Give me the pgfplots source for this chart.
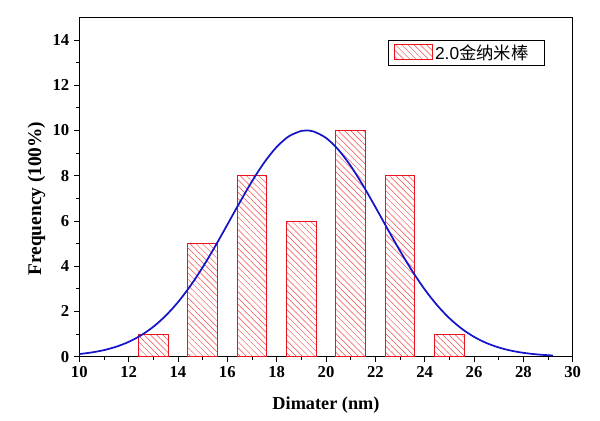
\documentclass[border=0pt]{standalone}
\usepackage{fontspec}
\setmainfont{Liberation Serif}
\setsansfont{Liberation Sans}
\newfontfamily\cjk{Noto Sans CJK SC}
\usepackage{pgfplots}
\pgfplotsset{compat=1.18}
\usetikzlibrary{patterns.meta}
\definecolor{curveblue}{RGB}{20,20,200}
\definecolor{barred}{RGB}{235,20,30}
\definecolor{hatchred}{RGB}{240,70,70}
\begin{document}
\begin{tikzpicture}
\useasboundingbox (-59.5pt,-48.2pt) rectangle (390.5pt,267.5pt);
\begin{axis}[
  scale only axis,
  width=370pt, height=254.5pt,
  xmin=10, xmax=30, ymin=0, ymax=15,
  xtick={10,12,...,30}, ytick={0,2,...,14},
  minor x tick num=1, minor y tick num=1,
  tick align=outside, tick pos=left,
  major tick length=4pt, minor tick length=2.5pt,
  axis line style={line width=0.8pt},
  every tick/.style={black, line width=0.6pt},
  /pgf/number format/assume math mode=true,
  tick label style={font=\fontsize{12.5}{13}\selectfont\bfseries},
  xlabel={Dimater (nm)},
  ylabel={Frequency (100\%)},
  xlabel style={at={(axis description cs:0.5,-0.144)}, anchor=center, font=\fontsize{13.7}{15}\selectfont\bfseries},
  ylabel style={at={(axis description cs:-0.0867,0.466)}, anchor=center, rotate=0, font=\fontsize{14.5}{16}\selectfont\bfseries},
  legend style={at={(1,1)}, anchor=north east, xshift=-20.8pt, yshift=-17pt,
    draw=black, line width=0.6pt, inner xsep=4pt, inner ysep=1pt,
    nodes={font=\fontsize{13}{15}\selectfont\sffamily}},
  legend cell align=left,
]
\addplot[ybar, bar width=1.2, bar shift=0pt, draw=barred, line width=0.6pt,
  pattern={Lines[angle=-45,distance=3.3pt,line width=0.35pt]}, pattern color=hatchred,
  legend image code/.code={
    \fill[pattern={Lines[angle=-45,distance=3.3pt,line width=0.35pt]}, pattern color=hatchred] (0pt,-5pt) rectangle (28pt,6pt);
    \draw[barred, line width=0.8pt] (0pt,-5pt) -- (28pt,-5pt);}
] coordinates {(13,1) (15,5) (17,8) (19,6) (21,10) (23,8) (25,1)};
\addlegendentry{\fontsize{13}{15}\selectfont\sffamily 2.0{\cjk 金纳米棒}\hspace*{6pt}}
\addplot[curveblue, line width=1.3pt, smooth, forget plot] coordinates {
(10,0.116) (10.5,0.186) (11,0.290) (11.5,0.441) (12,0.653) (12.5,0.942)
(13,1.322) (13.5,1.809) (14,2.410) (14.5,3.127) (15,3.952) (15.5,4.865)
(16,5.834) (16.5,6.813) (17,7.751) (17.5,8.589) (18,9.270) (18.5,9.745)
(19,9.979) (19.2,10) (19.5,9.953) (20,9.669) (20.5,9.149) (21,8.432)
(21.5,7.570) (22,6.619) (22.5,5.637) (23,4.677) (23.5,3.779) (24,2.974)
(24.5,2.280) (25,1.703) (25.5,1.238) (26,0.877) (26.5,0.605) (27,0.407)
(27.5,0.266) (28,0.170) (28.5,0.105) (29,0.064) (29.2,0.052)};
\end{axis}
\end{tikzpicture}
\end{document}
